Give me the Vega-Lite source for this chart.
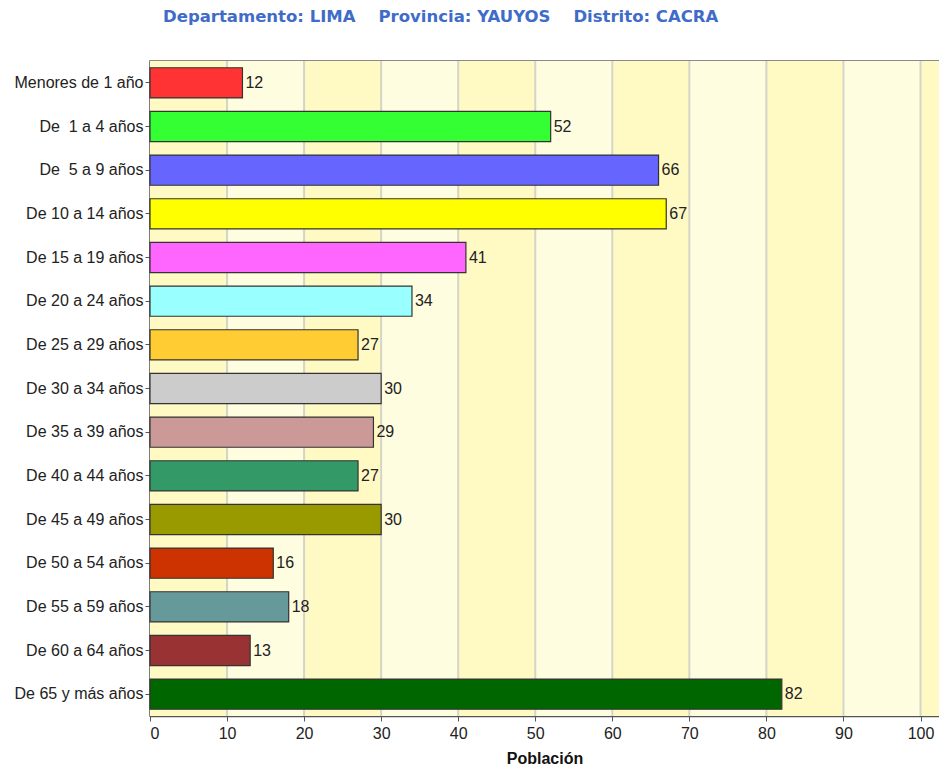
{
  "$schema": "https://vega.github.io/schema/vega-lite/v6.json",
  "autosize": {"type": "none"},
  "padding": {"left": 150, "top": 61, "right": 0, "bottom": 53},
  "width": 789,
  "height": 655,
  "background": "white",
  "title": {
    "text": "Departamento: LIMA\u00a0\u00a0\u00a0\u00a0Provincia: YAUYOS\u00a0\u00a0\u00a0\u00a0Distrito: CACRA",
    "anchor": "start",
    "frame": "group",
    "dx": 13,
    "offset": 35,
    "font": "DejaVu Sans",
    "fontSize": 16.5,
    "fontWeight": "bold",
    "color": "#3F6CC8"
  },
  "config": {
    "view": {"stroke": "#666666", "strokeWidth": 1.5},
    "axis": {"labelFont": "Liberation Sans", "labelFontSize": 16, "labelColor": "#222222", "titleFont": "Liberation Sans", "titleColor": "#111111", "domainColor": "#555555", "tickColor": "#555555"}
  },
  "datasets": {
    "bandas": [
      {"desde": 0, "hasta": 10, "tono": "a"},
      {"desde": 10, "hasta": 20, "tono": "b"},
      {"desde": 20, "hasta": 30, "tono": "a"},
      {"desde": 30, "hasta": 40, "tono": "b"},
      {"desde": 40, "hasta": 50, "tono": "a"},
      {"desde": 50, "hasta": 60, "tono": "b"},
      {"desde": 60, "hasta": 70, "tono": "a"},
      {"desde": 70, "hasta": 80, "tono": "b"},
      {"desde": 80, "hasta": 90, "tono": "a"},
      {"desde": 90, "hasta": 100, "tono": "b"},
      {"desde": 100, "hasta": 102.4, "tono": "a"}
    ],
    "rejilla": [
      {"v": 10}, {"v": 20}, {"v": 30}, {"v": 40}, {"v": 50},
      {"v": 60}, {"v": 70}, {"v": 80}, {"v": 90}, {"v": 100}
    ],
    "poblacion": [
      {"grupo": "Menores de 1 año", "poblacion": 12},
      {"grupo": "De \u00a01 a 4 años", "poblacion": 52},
      {"grupo": "De \u00a05 a 9 años", "poblacion": 66},
      {"grupo": "De 10 a 14 años", "poblacion": 67},
      {"grupo": "De 15 a 19 años", "poblacion": 41},
      {"grupo": "De 20 a 24 años", "poblacion": 34},
      {"grupo": "De 25 a 29 años", "poblacion": 27},
      {"grupo": "De 30 a 34 años", "poblacion": 30},
      {"grupo": "De 35 a 39 años", "poblacion": 29},
      {"grupo": "De 40 a 44 años", "poblacion": 27},
      {"grupo": "De 45 a 49 años", "poblacion": 30},
      {"grupo": "De 50 a 54 años", "poblacion": 16},
      {"grupo": "De 55 a 59 años", "poblacion": 18},
      {"grupo": "De 60 a 64 años", "poblacion": 13},
      {"grupo": "De 65 y más años", "poblacion": 82}
    ]
  },
  "layer": [
    {
      "data": {"name": "bandas"},
      "mark": {"type": "rect", "clip": true},
      "encoding": {
        "x": {"field": "desde", "type": "quantitative", "scale": {"domain": [0, 102.4], "nice": false}},
        "x2": {"field": "hasta"},
        "color": {"field": "tono", "type": "nominal", "scale": {"domain": ["a", "b"], "range": ["#FFFAC4", "#FFFDE0"]}, "legend": null}
      }
    },
    {
      "data": {"name": "rejilla"},
      "mark": {"type": "rule", "color": "#D4D4C8", "strokeWidth": 2},
      "encoding": {
        "x": {"field": "v", "type": "quantitative"}
      }
    },
    {
      "data": {"name": "poblacion"},
      "mark": {"type": "bar", "stroke": "#333333", "strokeWidth": 1.2},
      "encoding": {
        "y": {"field": "grupo", "type": "nominal", "sort": null, "title": null,
              "scale": {"paddingInner": 0.31, "paddingOuter": 0.155},
              "axis": {"tickSize": 5, "labelPadding": 2, "domainWidth": 1.5}},
        "x": {"field": "poblacion", "type": "quantitative", "title": "Población",
              "axis": {"values": [0, 10, 20, 30, 40, 50, 60, 70, 80, 90, 100], "grid": false, "tickSize": 5, "labelPadding": 4, "domainWidth": 1.5, "titleFontSize": 16, "titleFontWeight": "bold", "titlePadding": 9}},
        "color": {"field": "grupo", "type": "nominal", "legend": null,
                  "scale": {"domain": ["Menores de 1 año", "De \u00a01 a 4 años", "De \u00a05 a 9 años", "De 10 a 14 años", "De 15 a 19 años", "De 20 a 24 años", "De 25 a 29 años", "De 30 a 34 años", "De 35 a 39 años", "De 40 a 44 años", "De 45 a 49 años", "De 50 a 54 años", "De 55 a 59 años", "De 60 a 64 años", "De 65 y más años"],
                            "range": ["#FF3333", "#33FF33", "#6666FF", "#FFFF00", "#FF66FF", "#99FFFF", "#FFCC33", "#CCCCCC", "#CC9999", "#339966", "#999900", "#CC3300", "#669999", "#993333", "#006600"]}}
      }
    },
    {
      "data": {"name": "poblacion"},
      "mark": {"type": "text", "align": "left", "baseline": "middle", "dx": 3, "font": "Liberation Sans", "fontSize": 16, "color": "#222222"},
      "encoding": {
        "y": {"field": "grupo", "type": "nominal", "sort": null},
        "x": {"field": "poblacion", "type": "quantitative"},
        "text": {"field": "poblacion", "type": "quantitative"}
      }
    }
  ],
  "resolve": {"scale": {"color": "independent"}}
}
